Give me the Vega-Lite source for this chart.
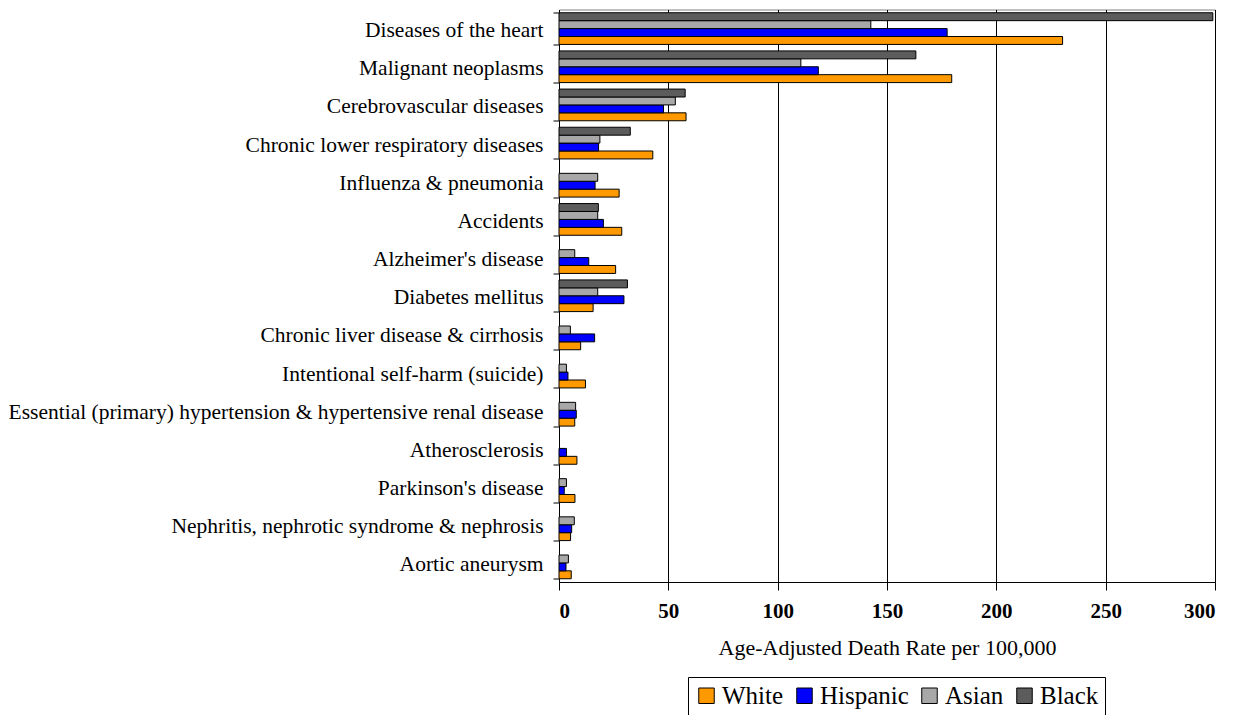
{
  "$schema": "https://vega.github.io/schema/vega-lite/v6.json",
  "autosize": "none",
  "width": 656,
  "height": 572.5,
  "padding": {"left": 559, "top": 9.5, "right": 31, "bottom": 133},
  "background": "white",
  "config": {
    "font": "Liberation Serif",
    "view": {"stroke": "#808080", "strokeWidth": 1},
    "legend": {"labelFont": "Liberation Serif", "titleFont": "Liberation Serif"},
    "axis": {"labelFont": "Liberation Serif", "titleFont": "Liberation Serif"}
  },
  "data": {
    "values": [
      {"cause": "Diseases of the heart", "group": "White", "rate": 230.3},
      {"cause": "Diseases of the heart", "group": "Hispanic", "rate": 177.5},
      {"cause": "Diseases of the heart", "group": "Asian", "rate": 142.6},
      {"cause": "Diseases of the heart", "group": "Black", "rate": 299},
      {"cause": "Malignant neoplasms", "group": "White", "rate": 179.6},
      {"cause": "Malignant neoplasms", "group": "Hispanic", "rate": 118.6},
      {"cause": "Malignant neoplasms", "group": "Asian", "rate": 110.6},
      {"cause": "Malignant neoplasms", "group": "Black", "rate": 163.2},
      {"cause": "Cerebrovascular diseases", "group": "White", "rate": 58.1},
      {"cause": "Cerebrovascular diseases", "group": "Hispanic", "rate": 47.8},
      {"cause": "Cerebrovascular diseases", "group": "Asian", "rate": 53.2},
      {"cause": "Cerebrovascular diseases", "group": "Black", "rate": 57.7},
      {"cause": "Chronic lower respiratory diseases", "group": "White", "rate": 42.9},
      {"cause": "Chronic lower respiratory diseases", "group": "Hispanic", "rate": 18.1},
      {"cause": "Chronic lower respiratory diseases", "group": "Asian", "rate": 18.7},
      {"cause": "Chronic lower respiratory diseases", "group": "Black", "rate": 32.6},
      {"cause": "Influenza & pneumonia", "group": "White", "rate": 27.5},
      {"cause": "Influenza & pneumonia", "group": "Hispanic", "rate": 16.5},
      {"cause": "Influenza & pneumonia", "group": "Asian", "rate": 17.7},
      {"cause": "Accidents", "group": "White", "rate": 28.7},
      {"cause": "Accidents", "group": "Hispanic", "rate": 20.3},
      {"cause": "Accidents", "group": "Asian", "rate": 17.7},
      {"cause": "Accidents", "group": "Black", "rate": 18.0},
      {"cause": "Alzheimer's disease", "group": "White", "rate": 25.9},
      {"cause": "Alzheimer's disease", "group": "Hispanic", "rate": 13.6},
      {"cause": "Alzheimer's disease", "group": "Asian", "rate": 7.2},
      {"cause": "Diabetes mellitus", "group": "White", "rate": 15.6},
      {"cause": "Diabetes mellitus", "group": "Hispanic", "rate": 29.7},
      {"cause": "Diabetes mellitus", "group": "Asian", "rate": 17.7},
      {"cause": "Diabetes mellitus", "group": "Black", "rate": 31.3},
      {"cause": "Chronic liver disease & cirrhosis", "group": "White", "rate": 9.9},
      {"cause": "Chronic liver disease & cirrhosis", "group": "Hispanic", "rate": 16.3},
      {"cause": "Chronic liver disease & cirrhosis", "group": "Asian", "rate": 5.2},
      {"cause": "Intentional self-harm (suicide)", "group": "White", "rate": 12.1},
      {"cause": "Intentional self-harm (suicide)", "group": "Hispanic", "rate": 4.1},
      {"cause": "Intentional self-harm (suicide)", "group": "Asian", "rate": 3.4},
      {"cause": "Essential (primary) hypertension & hypertensive renal disease", "group": "White", "rate": 7.2},
      {"cause": "Essential (primary) hypertension & hypertensive renal disease", "group": "Hispanic", "rate": 7.9},
      {"cause": "Essential (primary) hypertension & hypertensive renal disease", "group": "Asian", "rate": 7.6},
      {"cause": "Atherosclerosis", "group": "White", "rate": 8.2},
      {"cause": "Atherosclerosis", "group": "Hispanic", "rate": 3.4},
      {"cause": "Parkinson's disease", "group": "White", "rate": 7.3},
      {"cause": "Parkinson's disease", "group": "Hispanic", "rate": 2.4},
      {"cause": "Parkinson's disease", "group": "Asian", "rate": 3.4},
      {"cause": "Nephritis, nephrotic syndrome & nephrosis", "group": "White", "rate": 5.3},
      {"cause": "Nephritis, nephrotic syndrome & nephrosis", "group": "Hispanic", "rate": 5.8},
      {"cause": "Nephritis, nephrotic syndrome & nephrosis", "group": "Asian", "rate": 7.0},
      {"cause": "Aortic aneurysm", "group": "White", "rate": 5.6},
      {"cause": "Aortic aneurysm", "group": "Hispanic", "rate": 3.2},
      {"cause": "Aortic aneurysm", "group": "Asian", "rate": 4.3}
    ]
  },
  "mark": {"type": "bar", "stroke": "black", "strokeWidth": 1},
  "encoding": {
    "y": {
      "field": "cause",
      "type": "nominal",
      "sort": null,
      "scale": {"paddingInner": 0.17, "paddingOuter": 0.085},
      "axis": {
        "title": null,
        "labelFont": "Liberation Serif",
        "labelFontSize": 21.5,
        "labelColor": "black",
        "labelLimit": 700,
        "labelPadding": 10,
        "labelOffset": 2,
        "tickBand": "extent",
        "tickSize": 6,
        "tickColor": "black",
        "domainColor": "black",
        "grid": false
      }
    },
    "yOffset": {
      "field": "group",
      "type": "nominal",
      "sort": ["Black", "Asian", "Hispanic", "White"],
      "scale": {"paddingInner": 0, "paddingOuter": 0}
    },
    "x": {
      "field": "rate",
      "type": "quantitative",
      "scale": {"domain": [0, 300], "nice": false},
      "axis": {
        "values": [0, 50, 100, 150, 200, 250, 300],
        "title": "Age-Adjusted Death Rate per 100,000",
        "titleFont": "Liberation Serif",
        "titleFontSize": 22,
        "titleFontWeight": "normal",
        "titleColor": "black",
        "titlePadding": 16,
        "labelFont": "Liberation Serif",
        "labelFontSize": 21,
        "labelFontWeight": "bold",
        "labelColor": "black",
        "labelPadding": 10,
        "tickSize": 8,
        "tickColor": "black",
        "domainColor": "black",
        "grid": true,
        "gridColor": "black",
        "gridOpacity": 1,
        "gridWidth": 1
      }
    },
    "color": {
      "field": "group",
      "type": "nominal",
      "scale": {
        "domain": ["White", "Hispanic", "Asian", "Black"],
        "range": ["#FF9900", "#0000FF", "#a8a8a8", "#5c5c5c"]
      },
      "legend": {
        "title": null,
        "orient": "none",
        "legendX": 129,
        "legendY": 667.5,
        "direction": "horizontal",
        "columns": 4,
        "symbolType": "square",
        "symbolSize": 240,
        "symbolStrokeColor": "black",
        "symbolStrokeWidth": 1,
        "symbolOpacity": 1,
        "labelFont": "Liberation Serif",
        "labelFontSize": 25,
        "labelColor": "black",
        "labelOffset": 3,
        "columnPadding": 8,
        "padding": 6,
        "strokeColor": "black",
        "fillColor": "white"
      }
    }
  }
}
